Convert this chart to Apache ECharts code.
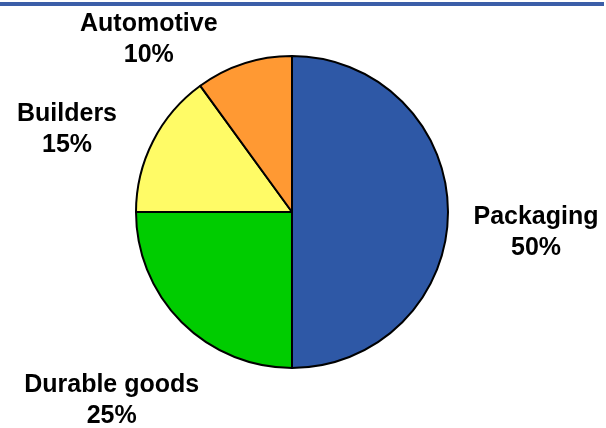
<!DOCTYPE html>
<html>
<head>
<meta charset="utf-8">
<script src="https://cdn.jsdelivr.net/npm/echarts@6/dist/echarts.min.js"></script>
<style>
  html, body { margin: 0; padding: 0; background: #fff; }
  #chart { width: 606px; height: 428px; }
</style>
</head>
<body>
<div id="chart"></div>
<script>
// Market share by end use
const categories = ['Packaging', 'Durable goods', 'Builders', 'Automotive'];
const shares = [50, 25, 15, 10];
const sliceColors = ['#2E58A6', '#00CC00', '#FFFB66', '#FF9933'];

// Offsets that move each outside label away from its slice edge
const labelShift = [
  { dx: 88, dy: 21 },
  { dx: -70, dy: 78 },
  { dx: -86, dy: -12 },
  { dx: -95, dy: -24 }
];

const chart = echarts.init(document.getElementById('chart'), null, { renderer: 'canvas' });

chart.setOption({
  animation: false,
  backgroundColor: '#ffffff',
  graphic: [{
    type: 'rect',
    shape: { x: 0, y: 2, width: 604, height: 4 },
    style: { fill: '#3B5EA8' },
    silent: true
  }],
  series: [{
    type: 'pie',
    center: [292, 212],
    radius: 156,
    startAngle: 90,
    clockwise: true,
    avoidLabelOverlap: false,
    data: categories.map((name, i) => ({
      name: name,
      value: shares[i],
      itemStyle: { color: sliceColors[i] }
    })),
    itemStyle: { borderColor: '#000000', borderWidth: 2 },
    label: {
      show: true,
      position: 'outside',
      formatter: (p) => p.name + '\n' + p.value + '%',
      fontFamily: 'Liberation Sans, Arial, sans-serif',
      fontWeight: 'bold',
      fontSize: 25,
      lineHeight: 31,
      color: '#000000',
      distanceToLabelLine: 0
    },
    labelLine: { show: false, length: 0, length2: 0 },
    labelLayout: (params) => ({
      align: 'center',
      dx: labelShift[params.dataIndex].dx,
      dy: labelShift[params.dataIndex].dy
    }),
    emphasis: { disabled: true }
  }]
});
</script>
</body>
</html>
